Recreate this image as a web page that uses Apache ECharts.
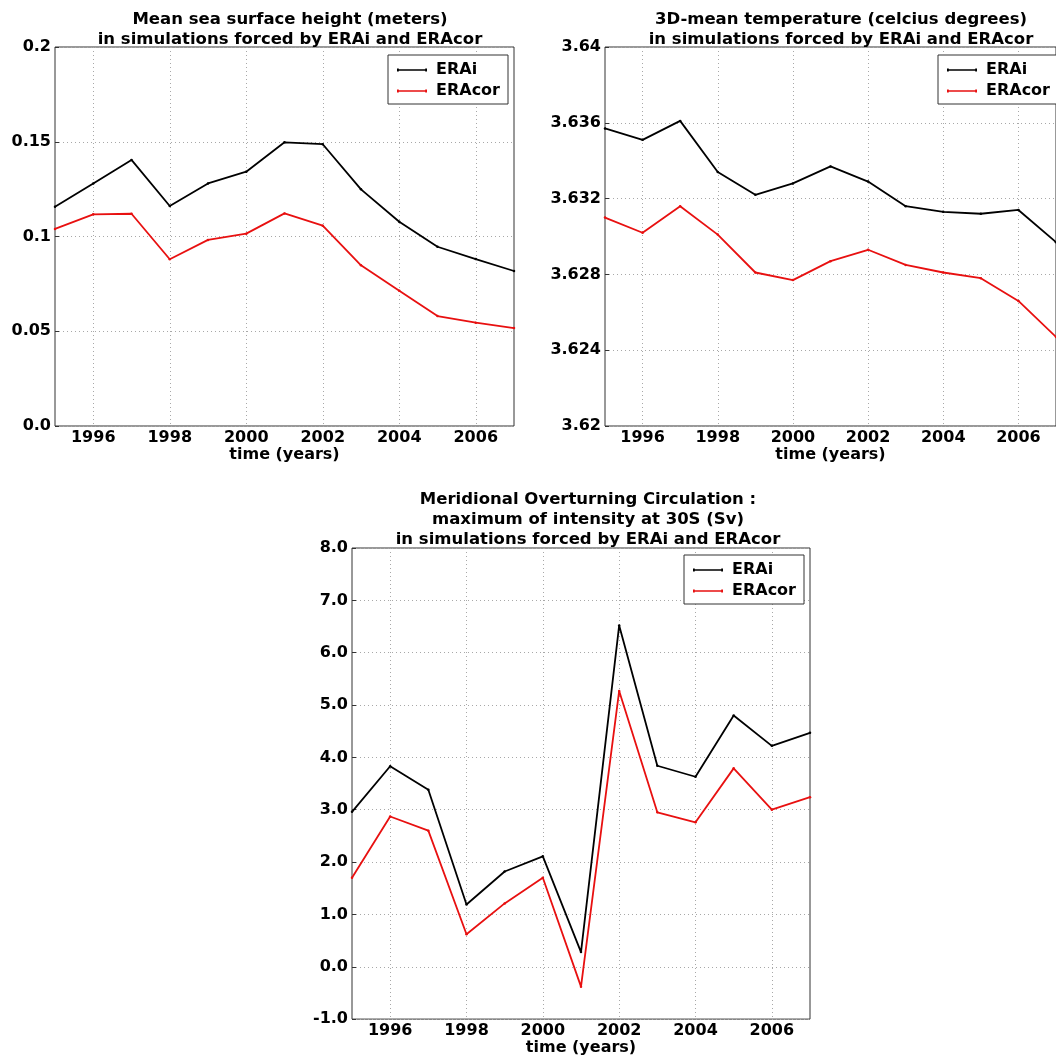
<!DOCTYPE html>
<html>
<head>
<meta charset="utf-8">
<script src="https://cdn.jsdelivr.net/npm/echarts@6/dist/echarts.min.js"></script>
<style>
html, body { margin: 0; padding: 0; background: #fff; }
#chart { width: 1056px; height: 1057px; }
</style>
</head>
<body>
<div id="chart"></div>
<script>
// Simulation years
const years = [1995, 1996, 1997, 1998, 1999, 2000, 2001, 2002, 2003, 2004, 2005, 2006, 2007];

// Mean sea surface height (m)
const sshERAi   = [0.1157, 0.128, 0.1404, 0.1161, 0.128, 0.1342, 0.1497, 0.1487, 0.1249, 0.1078, 0.0946, 0.0881, 0.0818];
const sshERAcor = [0.104, 0.1117, 0.112, 0.088, 0.0982, 0.1015, 0.1122, 0.1057, 0.0848, 0.0714, 0.058, 0.0545, 0.0517];

// 3D-mean temperature (deg C)
const tempERAi   = [3.6357, 3.6351, 3.6361, 3.6334, 3.6322, 3.6328, 3.6337, 3.6329, 3.6316, 3.6313, 3.6312, 3.6314, 3.6297];
const tempERAcor = [3.6310, 3.6302, 3.6316, 3.6301, 3.6281, 3.6277, 3.6287, 3.6293, 3.6285, 3.6281, 3.6278, 3.6266, 3.6247];

// MOC maximum at 30S (Sv)
const mocERAi   = [2.96, 3.83, 3.38, 1.19, 1.82, 2.11, 0.28, 6.52, 3.84, 3.63, 4.80, 4.22, 4.47];
const mocERAcor = [1.70, 2.87, 2.60, 0.62, 1.21, 1.70, -0.38, 5.27, 2.95, 2.76, 3.79, 3.00, 3.24];

// Tick labels
const yearTicks = ['1996', '1998', '2000', '2002', '2004', '2006'];
const sshTicks  = ['0.0', '0.05', '0.1', '0.15', '0.2'];
const tempTicks = ['3.62', '3.624', '3.628', '3.632', '3.636', '3.64'];
const mocTicks  = ['-1.0', '0.0', '1.0', '2.0', '3.0', '4.0', '5.0', '6.0', '7.0', '8.0'];

const FONT = 'DejaVu Sans';
const pairs = (vals) => years.map((y, i) => [y, vals[i]]);

const panels = [
  { left: 55,  top: 47,  width: 459, height: 379, min: 0,    max: 0.2,  step: 0.05,  ticks: sshTicks,  a: sshERAi,  b: sshERAcor,  legendLeft: 388, legendTop: 55 },
  { left: 605, top: 47,  width: 458, height: 379, min: 3.62, max: 3.64, step: 0.004, ticks: tempTicks, a: tempERAi, b: tempERAcor, legendLeft: 938, legendTop: 55 },
  { left: 352, top: 548, width: 458, height: 474, min: -1,   max: 8,    step: 1,     ticks: mocTicks,  a: mocERAi,  b: mocERAcor,  legendLeft: 684, legendTop: 555 }
];

const titleStyle = { fontFamily: FONT, fontWeight: 'bold', fontSize: 16.5, color: '#000', lineHeight: 20 };
const labelStyle = { fontFamily: FONT, fontWeight: 'bold', fontSize: 16, color: '#000' };
const gridLine = { show: true, lineStyle: { color: '#a8a8a8', type: [1, 3], width: 1 } };

const option = {
  backgroundColor: '#fff',
  animation: false,
  title: [
    { text: 'Mean sea surface height (meters)\nin simulations forced by ERAi and ERAcor', left: 285, top: 5, textAlign: 'center', textStyle: titleStyle },
    { text: '3D-mean temperature (celcius degrees)\nin simulations forced by ERAi and ERAcor', left: 836, top: 5, textAlign: 'center', textStyle: titleStyle },
    { text: 'Meridional Overturning Circulation :\nmaximum of intensity at 30S (Sv)\nin simulations forced by ERAi and ERAcor', left: 583, top: 485, textAlign: 'center', textStyle: titleStyle }
  ],
  grid: panels.map(p => ({
    left: p.left, top: p.top, width: p.width, height: p.height,
    show: true, borderColor: '#333', borderWidth: 1, backgroundColor: 'transparent', containLabel: false
  })),
  legend: panels.map(p => ({
    left: p.legendLeft, top: p.legendTop, orient: 'vertical',
    data: ['ERAi', 'ERAcor'],
    padding: [7, 8, 5, 9], itemGap: 5, itemWidth: 30, itemHeight: 18,
    icon: 'path://M0,8.2h30v1.6h-30z M0,7.6h1.8v2.8h-1.8z M28.2,7.6h1.8v2.8h-1.8z',
    backgroundColor: '#fff', borderColor: '#333', borderWidth: 1, borderRadius: 0,
    textStyle: { fontFamily: FONT, fontWeight: 'bold', fontSize: 16, color: '#000', padding: [0, 0, 0, 4] },
    selectedMode: false
  })),
  xAxis: panels.map((p, k) => ({
    type: 'value', gridIndex: k, min: 1995, max: 2007, interval: 1,
    name: 'time (years)', nameLocation: 'middle', nameGap: 20,
    nameTextStyle: labelStyle,
    axisLine: { show: false },
    axisTick: { show: false },
    axisLabel: {
      ...labelStyle, margin: 4, showMinLabel: false, showMaxLabel: false,
      formatter: (v) => { const i = yearTicks.indexOf(String(Math.round(v))); return i >= 0 ? yearTicks[i] : ''; }
    },
    splitLine: { show: true, lineStyle: { color: ['transparent', '#a8a8a8'], type: [1, 3], width: 1 } }
  })),
  yAxis: panels.map((p, k) => ({
    type: 'value', gridIndex: k, min: p.min, max: p.max, interval: p.step,
    axisLine: { show: false },
    axisTick: { show: true, inside: true, length: 4, lineStyle: { color: '#333' } },
    axisLabel: {
      ...labelStyle, margin: 4,
      formatter: (v) => p.ticks[Math.round((v - p.min) / p.step)]
    },
    splitLine: gridLine
  })),
  series: panels.flatMap((p, k) => [
    { name: 'ERAi', type: 'line', xAxisIndex: k, yAxisIndex: k, data: pairs(p.a),
      symbol: 'circle', symbolSize: 2.5, showSymbol: true,
      itemStyle: { color: '#000' }, lineStyle: { color: '#000', width: 1.8 } },
    { name: 'ERAcor', type: 'line', xAxisIndex: k, yAxisIndex: k, data: pairs(p.b),
      symbol: 'circle', symbolSize: 2.5, showSymbol: true,
      itemStyle: { color: '#e81010' }, lineStyle: { color: '#e81010', width: 1.8 } }
  ])
};

const chart = echarts.init(document.getElementById('chart'), null, { renderer: 'canvas' });
chart.setOption(option);
</script>
</body>
</html>
